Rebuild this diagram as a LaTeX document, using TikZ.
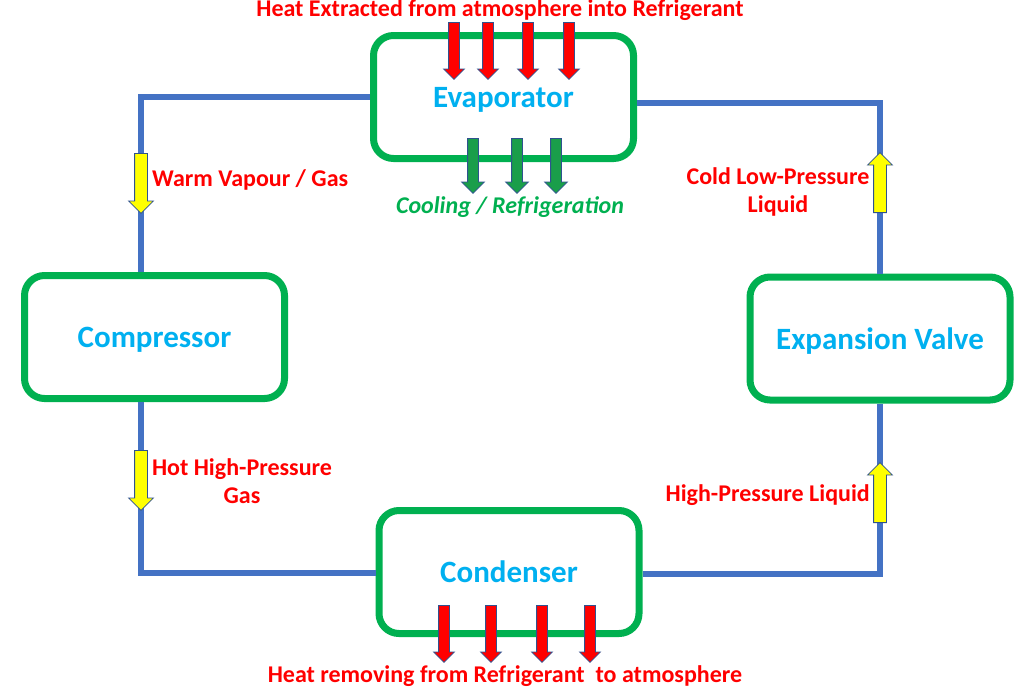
\documentclass[tikz,border=0pt]{standalone}
\usepackage{fontspec}
\setmainfont{Carlito}
\usetikzlibrary{shapes.arrows}
\definecolor{pipeblue}{HTML}{4472C4}
\definecolor{boxgreen}{HTML}{00B050}
\definecolor{namecyan}{HTML}{00B0F0}
\definecolor{coolgreen}{HTML}{1A9E4A}
\definecolor{edgeblue}{HTML}{2F528F}
\definecolor{flowyellow}{HTML}{FFFF00}
\tikzset{
  unit/.style={draw=boxgreen, line width=7pt, rounded corners=20pt, fill=white,
    minimum width=260pt, minimum height=123pt, text=namecyan, text depth=0pt,
    font=\fontsize{31}{36}\selectfont\bfseries},
  pipe/.style={draw=pipeblue, line width=6pt},
  redtext/.style={text=red, font=\fontsize{24}{28}\selectfont\bfseries,
    inner sep=0pt, align=center},
  blockarrow/.style={single arrow, draw=edgeblue, line width=0.8pt,
    inner sep=0pt, anchor=tail, rotate=#1},
  heatarrow/.style={blockarrow=-90, fill=red, inner ysep=5pt,
    single arrow head extend=5pt, minimum height=57pt},
  coolarrow/.style={blockarrow=-90, fill=coolgreen, inner ysep=5pt,
    single arrow head extend=6pt, minimum height=55pt},
  flowarrow/.style={blockarrow=#1, fill=flowyellow, inner ysep=6pt,
    single arrow head extend=6pt, minimum height=60pt}
}
\begin{document}
\begin{tikzpicture}[x=1pt, y=-1pt]
  \fill[white] (0,0) rectangle (1024,697);
  \useasboundingbox (0,0) rectangle (1024,697);
  % Pipe corners
  \coordinate (lt) at (141,97);
  \coordinate (rt) at (880,103);
  \coordinate (lb) at (141,573);
  \coordinate (rb) at (880,574);
  % Units
  \node[unit] (evap)  at (503.5,97)  {Evaporator};
  \node[unit] (comp)  at (154.5,337) {Compressor};
  \node[unit] (valve) at (880,338.5) {Expansion Valve};
  \node[unit] (cond)  at (509,572)   {Condenser};
  % Pipes
  \draw[pipe] (evap.west) -- (lt) -- (lt |- comp.north);
  \draw[pipe] (valve.north) -- (rt) -- (rt -| evap.east);
  \draw[pipe] (lb |- comp.south) -- (lb) -- (cond.west |- lb);
  \draw[pipe] (cond.east |- rb) -- (rb) -- (valve.south);
  % Heat in, heat out, cooling
  \foreach \x [count=\i] in {454,488,528,569}
    \node[heatarrow] (in\i) at (\x,22) {};
  \foreach \x [count=\i] in {444,491,542,590}
    \node[heatarrow] (out\i) at (\x,605) {};
  \foreach \x [count=\i] in {473,517,556}
    \node[coolarrow] (cool\i) at (\x,138) {};
  % Flow direction
  \node[flowarrow=-90] (f1) at (141,153) {};
  \node[flowarrow=-90] (f2) at (141,450) {};
  \node[flowarrow=90]  (f3) at (880,213) {};
  \node[flowarrow=90]  (f4) at (880,523) {};
  % Labels
  \node[redtext] (heatin) at (500,10) {Heat Extracted from atmosphere into Refrigerant};
  \node[redtext, anchor=west] (warm) at (152,180) {Warm Vapour / Gas};
  \node[redtext] (hot) at (242,481) {Hot High-Pressure\\Gas};
  \node[redtext] (cold) at (778,192) {Cold Low-Pressure\\Liquid};
  \node[redtext, anchor=east] (hpl) at (870,495) {High-Pressure Liquid};
  \node[redtext] (heatout) at (505,676) {Heat removing from Refrigerant\ \ to atmosphere};
  \node[redtext, text=boxgreen, font=\fontsize{24}{28}\selectfont\bfseries\itshape]
    (cooling) at (510,207) {Cooling / Refrigeration};
\end{tikzpicture}
\end{document}
